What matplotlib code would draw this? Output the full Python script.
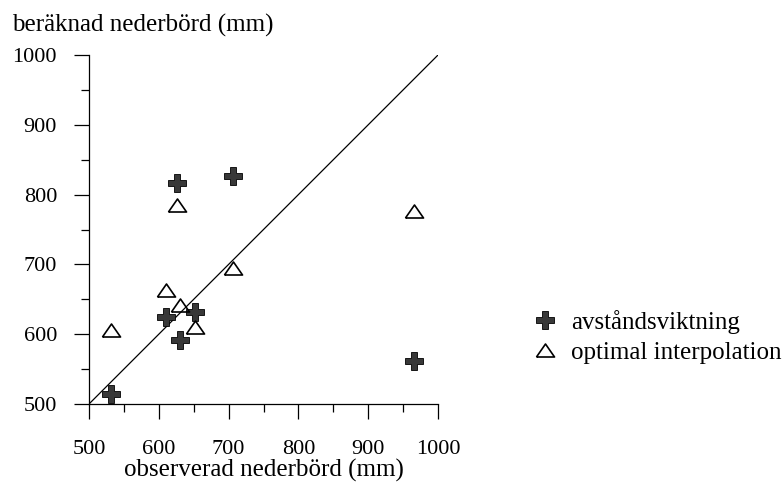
import matplotlib
matplotlib.use("Agg")
import matplotlib.pyplot as plt
from matplotlib.ticker import MultipleLocator

plt.rcParams['font.family'] = ['Liberation Serif', 'DejaVu Serif']

# observerad nederbörd per station (mm)
observed = [531, 610, 626, 631, 652, 706, 966]
# beräknad med avståndsviktning
weighted = [515, 625, 817, 591, 632, 826, 561]
# beräknad med optimal interpolation
optimal = [606, 664, 785, 642, 611, 695, 777]

axis_min, axis_max = 500, 1000
ticks = [500, 600, 700, 800, 900, 1000]

# bredare triangel än standardmarkören
tri = [(-1, -0.72), (1, -0.72), (0, 0.72), (-1, -0.72)]

fig = plt.figure(figsize=(7.84, 4.82), dpi=100)
ax = fig.add_axes([0.1135, 0.1618, 0.4452, 0.7241])

ax.plot([axis_min, axis_max], [axis_min, axis_max], color='black', lw=0.9, zorder=1)

ax.plot(observed, weighted, linestyle='none', marker='P', ms=12.5,
        mfc='#383838', mec='black', mew=0.6, clip_on=False, zorder=3,
        label='avståndsviktning')
ax.plot(observed, optimal, linestyle='none', marker=tri, ms=13,
        mfc='none', mec='black', mew=1.2, clip_on=False, zorder=3,
        label='optimal interpolation')

ax.set_xlim(axis_min, axis_max)
ax.set_ylim(axis_min, axis_max)
ax.set_xticks(ticks)
ax.set_yticks(ticks)
ax.xaxis.set_minor_locator(MultipleLocator(50))
ax.yaxis.set_minor_locator(MultipleLocator(50))

for side in ['top', 'right']:
    ax.spines[side].set_visible(False)
for side in ['left', 'bottom']:
    ax.spines[side].set_linewidth(0.9)

ax.tick_params(which='major', length=11, width=0.9, labelsize=16)
ax.tick_params(which='minor', length=5.5, width=0.9)
ax.tick_params(axis='x', which='major', pad=15)
ax.tick_params(axis='y', which='major', pad=12)

ax.set_xlabel('observerad nederbörd (mm)', fontsize=18, labelpad=0)
fig.text(0.015, 0.948, 'beräknad nederbörd (mm)', fontsize=18, va='center', ha='left')

ax.legend(loc='upper left', bbox_to_anchor=(532 / 784, 1 - 310 / 482),
          bbox_transform=fig.transFigure, frameon=False,
          fontsize=18, handlelength=1.0, handletextpad=0.55, labelspacing=0.3,
          borderaxespad=0, borderpad=0)

fig.savefig('out.png', dpi=100)
